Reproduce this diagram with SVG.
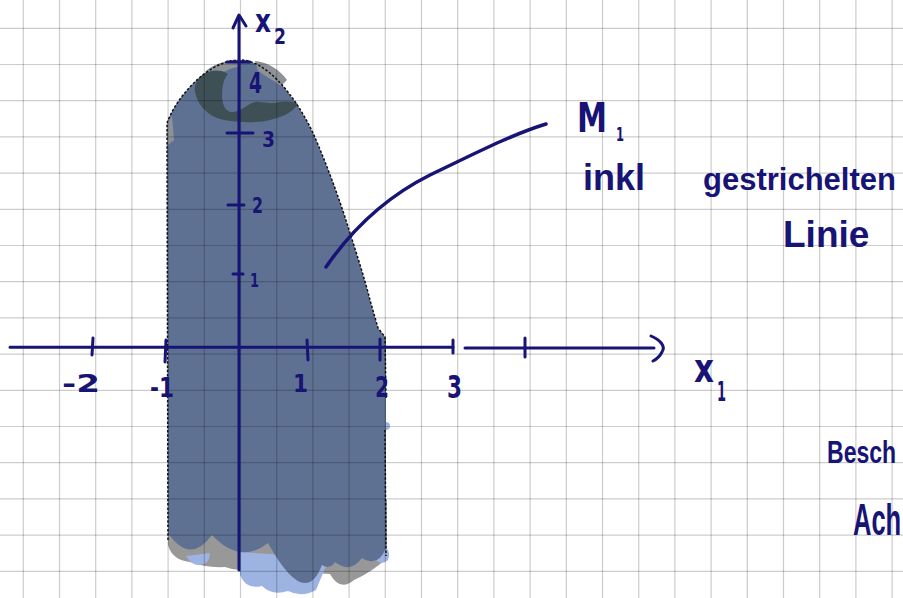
<svg xmlns="http://www.w3.org/2000/svg" width="903" height="598" viewBox="0 0 903 598">
<style>
.grid{fill:none;stroke:#000;stroke-opacity:0.2;stroke-width:1.2}
.ink{fill:none;stroke:#171476;stroke-width:3;stroke-linecap:round;stroke-linejoin:round}
.txt{fill:#171476;font-family:"DejaVu Sans","Liberation Sans",sans-serif;font-weight:bold}
.hand{fill:#171476;font-family:"Liberation Sans",Arial,sans-serif;font-weight:bold}
.dash{fill:none;stroke:#111;stroke-width:1.5;stroke-dasharray:2.5 1.8}
</style>
<rect width="903" height="598" fill="#fff"/>
<g id="region">
<path fill="#989898" d="M168,500 L168,545 Q172,560 190,562 Q205,568 225,567 Q238,572 252,569 L330,574 Q340,592 354,580 Q372,572 387,558 L387,500 Z"/>
<path fill="#9db3e2" d="M186,556 Q192,566 200,565 Q210,564 210,553 Z"/>
<path fill="#9db3e2" d="M240,552 L240,575 Q246,590 262,586 Q272,596 288,591 Q302,598 316,590 L326,566 L300,556 Z"/>
<path fill="#9db3e2" d="M380,545 Q392,548 388,560 Q382,566 376,560 Z"/>
<circle cx="386" cy="426" r="4" fill="#9db3e2"/>
<path fill="#5e7193" d="M167,123 C175,100 205,62 238,60 C265,58 295,95 313,133 C325,160 340,200 350,233 C357,255 365,280 370,300 L378,328 L386,338 L386,548 Q378,568 362,558 Q350,574 335,562 Q330,570 322,565 Q305,610 268,543 Q240,565 212,535 Q190,565 168,533 Z"/>
<path fill="#8e9298" d="M205,72 C212,64 228,60 238,60 L238,67 C230,68 222,72 215,78 Z"/>
<path fill="#8e9298" d="M255,61 C268,62 280,70 287,80 L281,86 C273,80 265,76 258,71 Z"/>
<path fill="#8e9298" d="M167,123 L172,116 L174,140 L168,145 Z"/>
<path fill="#3e4f55" d="M195,92 C197,103 205,113 217,118 C228,122 255,124 270,120 C283,117 293,112 298,104 C292,101 285,101 275,103 C265,104 258,100 252,103 C245,106 240,112 232,112 C225,112 222,104 222,95 C222,86 224,78 228,74 C220,68 207,70 200,77 C196,81 194,87 195,92 Z"/>
<path class="dash" d="M168,540 L167,123 C175,100 205,62 238,60 C265,58 295,95 313,133 C325,160 340,200 350,233 C357,255 365,280 370,300 L378,328 L385,337 L386,398"/>
<path class="dash" d="M385,430 L386,556"/>
</g>
<g id="grid">
<path class="grid" d="M23.3,0V598M59.5,0V598M95.7,0V598M131.9,0V598M168.1,0V598M204.3,0V598M240.5,0V598M276.7,0V598M312.9,0V598M349.1,0V598M385.3,0V598M421.5,0V598M457.7,0V598M493.9,0V598M530.1,0V598M566.3,0V598M602.5,0V598M638.7,0V598M674.9,0V598M711.1,0V598M747.3,0V598M783.5,0V598M819.7,0V598M855.9,0V598M892.1,0V598"/>
<path class="grid" d="M0,28.3H903M0,64.5H903M0,100.7H903M0,136.9H903M0,173.1H903M0,209.3H903M0,245.5H903M0,281.7H903M0,317.9H903M0,354.1H903M0,390.3H903M0,426.5H903M0,462.7H903M0,498.9H903M0,535.1H903M0,571.3H903"/>
</g>
<g id="axes">
<path class="ink" d="M10,347.3 L453,347.3 M465,348 L654,348"/>
<path class="ink" d="M651,336 C660,340 666,346 662,352 C660,356 657,359 653,361"/>
<path class="ink" d="M239,570 L239,17"/>
<path class="ink" d="M233,28 L239,15 L246,26"/>
<path class="ink" d="M93,338 L92,355 M166,340 L165,362 M307,340 L308,360 M380,339 L380,360 M453,340 L453,353 M525,338 L525,357"/>
<path class="ink" d="M227,62 L250,62 M227,133 L253,133 M228,205 L244,205 M233,274 L243,274"/>
</g>
<g id="tick-labels">
<text class="txt" x="249" y="93" font-size="28" textLength="13" lengthAdjust="spacingAndGlyphs">4</text>
<text class="txt" x="262" y="147" font-size="22" textLength="13" lengthAdjust="spacingAndGlyphs">3</text>
<text class="txt" x="252" y="213" font-size="22" textLength="11" lengthAdjust="spacingAndGlyphs">2</text>
<text class="txt" x="250" y="287" font-size="20" textLength="9" lengthAdjust="spacingAndGlyphs">1</text>
<text class="txt" x="62" y="392" font-size="24" textLength="38" lengthAdjust="spacingAndGlyphs">-2</text>
<text class="txt" x="150" y="397" font-size="26" textLength="24" lengthAdjust="spacingAndGlyphs">-1</text>
<text class="txt" x="293" y="392" font-size="24" textLength="15" lengthAdjust="spacingAndGlyphs">1</text>
<text class="txt" x="375" y="397" font-size="28" textLength="14" lengthAdjust="spacingAndGlyphs">2</text>
<text class="txt" x="447" y="398" font-size="32" textLength="15" lengthAdjust="spacingAndGlyphs">3</text>
<text class="txt" x="694" y="382" font-size="40" textLength="20" lengthAdjust="spacingAndGlyphs">x</text>
<text class="txt" x="717" y="401" font-size="26" textLength="9" lengthAdjust="spacingAndGlyphs">1</text>
<text class="txt" x="255" y="32" font-size="32" textLength="16" lengthAdjust="spacingAndGlyphs">x</text>
<text class="txt" x="274" y="44" font-size="22" textLength="12" lengthAdjust="spacingAndGlyphs">2</text>
</g>
<g id="annotation">
<path class="ink" style="stroke-width:3.5" d="M326,267 C355,225 390,195 430,175 C470,156 510,135 546,124"/>
<text class="txt" x="577" y="132" font-size="40" textLength="30" lengthAdjust="spacingAndGlyphs">M</text>
<text class="txt" x="616" y="141" font-size="20" textLength="8" lengthAdjust="spacingAndGlyphs">1</text>
<text class="hand" x="583" y="190" font-size="36">inkl</text>
<text class="hand" x="703" y="190" font-size="31">gestrichelten</text>
<text class="hand" x="783" y="247" font-size="37">Linie</text>
<text class="hand" transform="translate(827,463) scale(0.72,1)" font-size="32">Besch</text>
<text class="hand" transform="translate(853,535) scale(0.58,1)" font-size="44">Ach</text>
</g>
</svg>
